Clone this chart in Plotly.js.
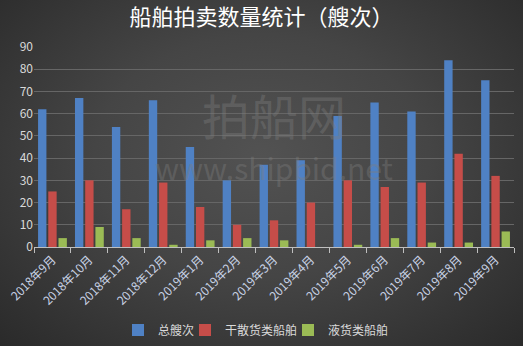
<!DOCTYPE html>
<html>
<head>
<meta charset="utf-8">
<script src="https://cdn.plot.ly/plotly-3.0.1.min.js"></script>
<style>
html,body{margin:0;padding:0;}
#chart{width:523px;height:346px;background:radial-gradient(ellipse at 50% 45%, #525252 0%, #454545 45%, #2a2a2a 100%);}
</style>
</head>
<body>
<div id="chart"></div>
<script>
const categories = ["2018年9月","2018年10月","2018年11月","2018年12月","2019年1月","2019年2月","2019年3月","2019年4月","2019年5月","2019年6月","2019年7月","2019年8月","2019年9月"];
const totalShips = [62,67,54,66,45,30,37,39,59,65,61,84,75];
const bulkShips = [25,30,17,29,18,10,12,20,30,27,29,42,32];
const liquidShips = [4,9,4,1,3,4,3,0,1,4,2,2,7];
const seriesNames = ["总艘次","干散货类船舶","液货类船舶"];
const tickVals = [0,10,20,30,40,50,60,70,80,90];

const font = "'Noto Sans CJK SC', 'Noto Sans', sans-serif";
const colors = ["#4f81c4","#c64d49","#9bbb55"];
const legendIds = ["legend","legend2","legend3"];
const legendX = [118, 185, 288];
const seriesData = [totalShips, bulkShips, liquidShips];
const data = seriesData.map((vals,i)=>({
  type:'bar', x:categories, y:vals, name:seriesNames[i], legend:legendIds[i],
  marker:{color:colors[i], line:{width:0}}
}));

const layout = {
  width:523, height:346,
  paper_bgcolor:'rgba(0,0,0,0)', plot_bgcolor:'rgba(0,0,0,0)',
  margin:{l:34, r:9, t:47, b:99, autoexpand:false},
  title:{text:'船舶拍卖数量统计（艘次）', x:0.5, xanchor:'center', y:0.95, yanchor:'middle',
    font:{family:font, size:22, color:'#ffffff'}},
  barmode:'group', bargap:0.17, bargroupgap:0.18,
  showlegend:true,
  xaxis:{type:'category', showgrid:false, showline:true, linecolor:'#bfbfbf', linewidth:1,
    ticks:'outside', tickson:'boundaries', ticklen:5, tickcolor:'#bfbfbf', automargin:false,
    tickangle:-45, tickfont:{family:font, size:12, color:'#c9d3e6'}, zeroline:false},
  yaxis:{range:[0,90], tickvals:tickVals, showgrid:true, gridcolor:'#666666', gridwidth:1, automargin:false,
    zeroline:false, showline:false, ticks:'', tickfont:{family:font, size:12, color:'#d9d9d9'}},
  annotations:[
    {text:'拍船网', xref:'paper', yref:'paper', x:0.5, y:0.665, xanchor:'center', yanchor:'middle', showarrow:false,
     font:{family:font, size:48, color:'rgba(125,125,125,0.4)'}},
    {text:'www.shipbid.net', xref:'paper', yref:'paper', x:0.5, y:0.40, xanchor:'center', yanchor:'middle', showarrow:false,
     font:{family:font, size:30, color:'rgba(125,125,125,0.4)'}}
  ]
};
legendIds.forEach((id,i)=>{
  layout[id] = {orientation:'h', xref:'container', x:legendX[i]/523, xanchor:'left',
    yref:'container', y:0.046, yanchor:'middle', bgcolor:'rgba(0,0,0,0)',
    font:{family:font, size:12, color:'#d9d9d9'}, itemwidth:30};
});
Plotly.newPlot('chart', data, layout, {displayModeBar:false, staticPlot:true});
</script>
</body>
</html>
